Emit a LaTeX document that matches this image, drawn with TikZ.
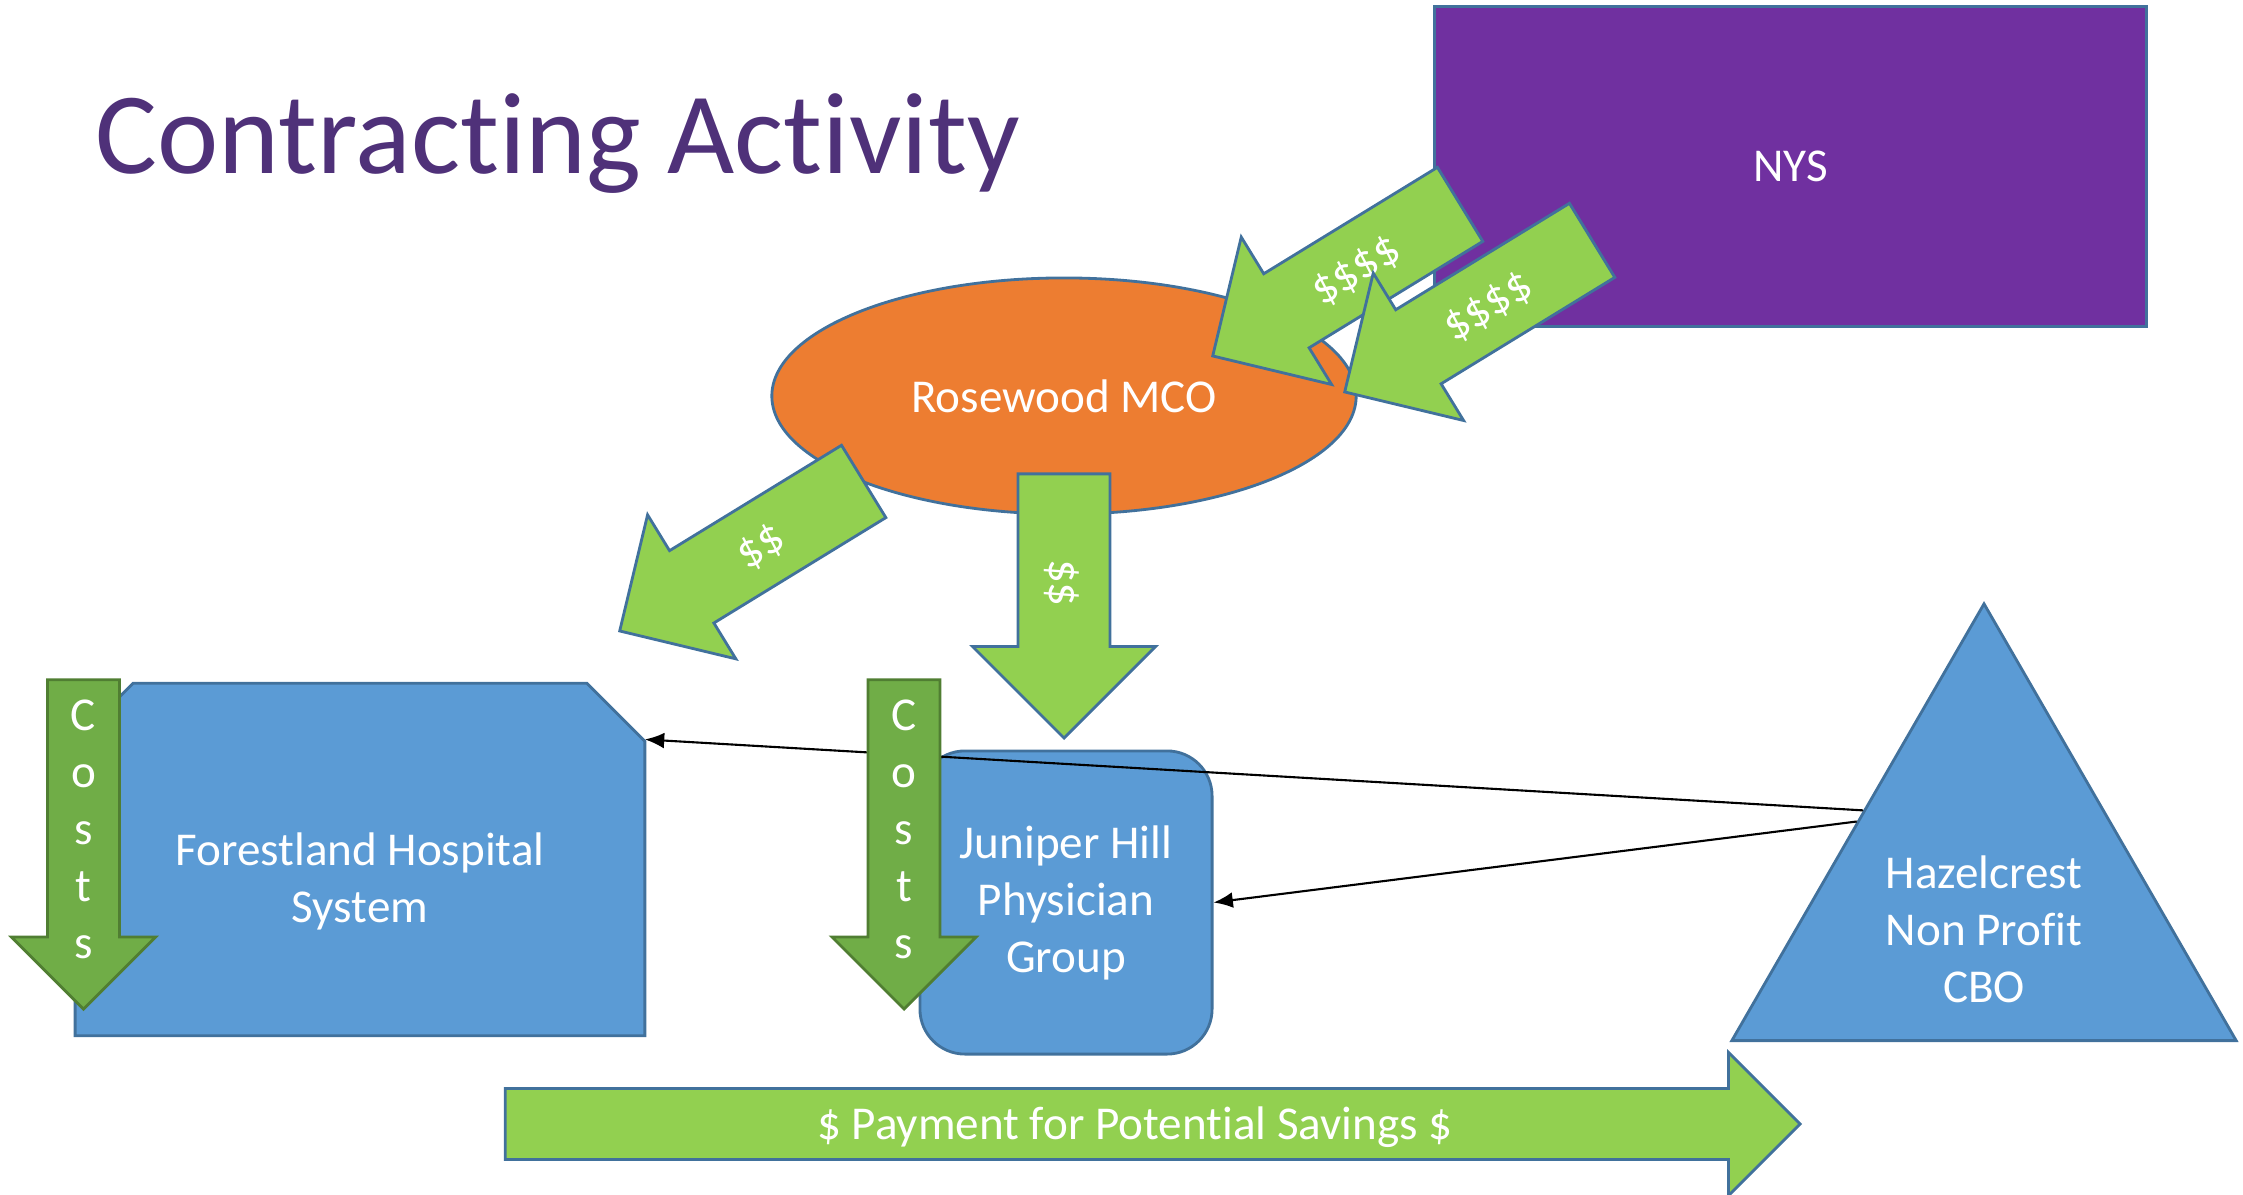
\documentclass[tikz,border=0pt]{standalone}
\usepackage{fontspec}
\setmainfont{Carlito}[Ligatures=NoCommon]
\usetikzlibrary{arrows.meta,shapes.geometric,shapes.arrows}

\definecolor{cashgreen}{HTML}{92D050}
\definecolor{costgreen}{HTML}{70AD47}
\definecolor{costline}{HTML}{507E32}
\definecolor{boxblue}{HTML}{5B9BD5}
\definecolor{edgeblue}{HTML}{41719C}
\definecolor{mcoorange}{HTML}{ED7D31}
\definecolor{nyspurple}{HTML}{7030A0}
\definecolor{titlepurple}{HTML}{4F3179}

\begin{document}
\begin{tikzpicture}[
    x=0.01cm,
    y=-0.01cm,
    every node/.style={
        font=\fontsize{13.4}{16.2}\selectfont,
        text=white
    },
    party/.style={
        draw=edgeblue,
        line width=0.8pt,
        fill=boxblue,
        align=center
    },
    cash/.style={
        single arrow,
        single arrow tip angle=90,
        draw=edgeblue,
        line width=0.8pt,
        fill=cashgreen,
        inner xsep=0pt,
        text height=3.5mm,
        text depth=0.5mm,
        anchor=tip
    },
    cost/.style={
        single arrow,
        single arrow tip angle=90,
        single arrow head extend=3.6mm,
        draw=costline,
        line width=0.8pt,
        fill=costgreen,
        inner xsep=0pt,
        inner ysep=3.45mm,
        minimum height=32.9mm,
        rotate=-90,
        anchor=tip
    },
    link/.style={
        -{Latex[length=5.5pt,width=4.5pt]},
        line width=0.6pt,
        black
    },
    heading/.style={
        font=\fontsize{33}{40}\selectfont,
        text=titlepurple,
        inner sep=0pt
    }
]
    \useasboundingbox (0,0) rectangle (2243,1194);

    \node[heading, anchor=base west] (title) at (95,173) {Contracting Activity};

    % payers
    \node[party, fill=nyspurple, minimum width=71.1mm, minimum height=31.9mm] (nys) at (1790.5,166.5) {NYS};
    \node[party, ellipse, fill=mcoorange, minimum width=58.4mm, minimum height=23.6mm] (mco) at (1064,396) {Rosewood MCO};

    % money flowing down
    \node[cash, shape border rotate=180, rotate=31.5, inner ysep=2.2mm, single arrow head extend=4.3mm, minimum height=29mm] (fund1) at (1211,357) {\$\$\$\$};
    \node[cash, shape border rotate=180, rotate=31.5, inner ysep=2.2mm, single arrow head extend=4.3mm, minimum height=29mm] (fund2) at (1343,393) {\$\$\$\$};
    \node[cash, shape border rotate=180, rotate=31.5, inner ysep=2.1mm, single arrow head extend=4.2mm, minimum height=28.6mm] (fund3) at (618,632) {\$\$};
    \node[cash, rotate=-90, inner ysep=2.45mm, single arrow head extend=4.55mm, minimum height=26.4mm] (fund4) at (1064,740) {\$\$};

    % providers
    \node[minimum width=56.8mm, minimum height=35.1mm] (forest) at (360,859.5) {};
    \draw[party] ([xshift=5.8mm]forest.north west) -- ([xshift=-5.8mm]forest.north east)
        -- ([yshift=-5.8mm]forest.north east) -- (forest.south east)
        -- (forest.south west) -- ([yshift=-5.8mm]forest.north west) -- cycle;
    \node[align=center] (forestext) at (360,881) {Forestland Hospital\\System};
    \node[party, rounded corners=4.5mm, minimum width=29.2mm, minimum height=30.3mm] (juniper) at (1066,902.5) {Juniper Hill\\Physician\\Group};
    \node[party, regular polygon, regular polygon sides=3, minimum size=58.2mm, inner sep=0pt] (hazel) at (1984,895) {};
    \node[align=center] (hazeltext) at (1984,929) {Hazelcrest\\Non Profit\\CBO};

    \draw[link] (hazel.145) -- ([yshift=12mm]forest.east);
    \draw[link] (hazel.150) -- (juniper.east);

    % costs
    \node[cost] (costs1) at (83.5,1011) {};
    \node[align=center] (costs1text) at (83.5,829) {C\\o\\s\\t\\s};
    \node[cost] (costs2) at (904,1011) {};
    \node[align=center] (costs2text) at (904,829) {C\\o\\s\\t\\s};

    \node[cash, inner ysep=1.4mm, single arrow head extend=3.6mm, minimum height=129.4mm] (savings) at (1802,1124) {\$ Payment for Potential Savings \$};
\end{tikzpicture}
\end{document}
